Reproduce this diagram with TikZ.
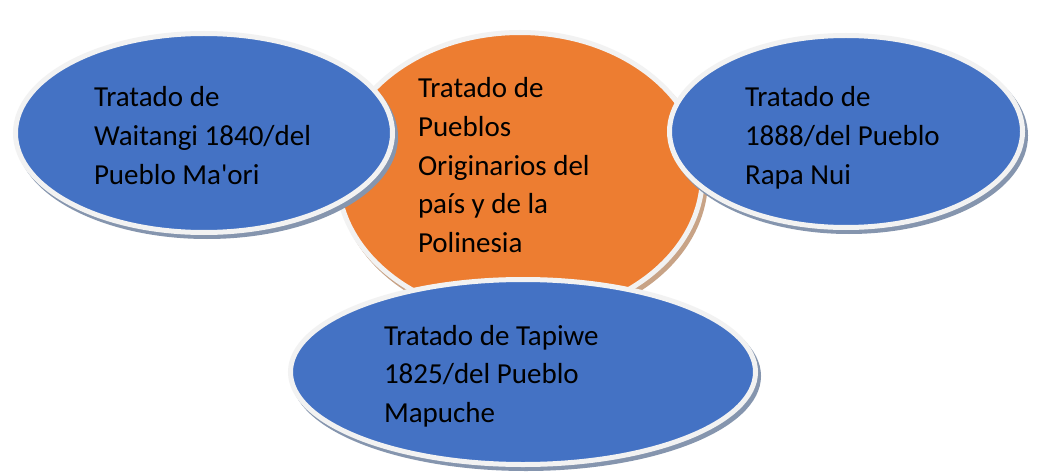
\documentclass[tikz,border=0pt]{standalone}
\usepackage{fontspec}
\newfontfamily\calib{Carlito}
\usetikzlibrary{shapes.geometric,shadows}
\definecolor{ublue}{HTML}{4472C4}
\definecolor{uorange}{HTML}{ED7D31}
\definecolor{rim}{HTML}{F2F2F2}
\definecolor{shblue}{HTML}{8595AE}
\definecolor{shorange}{HTML}{C8A386}
\newcommand{\bubtext}[1]{\parbox[t]{300pt}{\raggedright\calib\fontsize{29}{38.6}\selectfont #1}}
\begin{document}
\begin{tikzpicture}[x=1pt,y=-1pt,
  bubble/.style={ellipse, draw=rim, line width=5pt, inner sep=0pt, outer sep=0pt,
    general shadow={fill=#1, draw=#1, line width=5pt, shadow xshift=3pt, shadow yshift=-4pt}},
  bluebubble/.style={bubble=shblue, fill=ublue},
  orangebubble/.style={bubble=shorange, fill=uorange},
  lbl/.style={anchor=base west, inner sep=0pt, outer sep=0pt, text=black}
]
\useasboundingbox[fill=white] (0,0) rectangle (1059,473);
\node[orangebubble, minimum width=365pt, minimum height=285pt] (center) at (520,175) {};
\node[bluebubble, minimum width=377pt, minimum height=199pt] (left) at (204,133) {};
\node[bluebubble, minimum width=353pt, minimum height=192pt] (right) at (846,131.5) {};
\node[bluebubble, minimum width=465pt, minimum height=185pt] (bottom) at (523,372) {};
\node[lbl] (tcenter) at (418,98) {\bubtext{Tratado de\\Pueblos\\Originarios del\\país y de la\\Polinesia}};
\node[lbl] (tleft) at (94,107) {\bubtext{Tratado de\\Waitangi 1840/del\\Pueblo Ma'ori}};
\node[lbl] (tright) at (745,107) {\bubtext{Tratado de\\1888/del Pueblo\\Rapa Nui}};
\node[lbl] (tbottom) at (384,345) {\bubtext{Tratado de Tapiwe\\1825/del Pueblo\\Mapuche}};
\end{tikzpicture}
\end{document}
